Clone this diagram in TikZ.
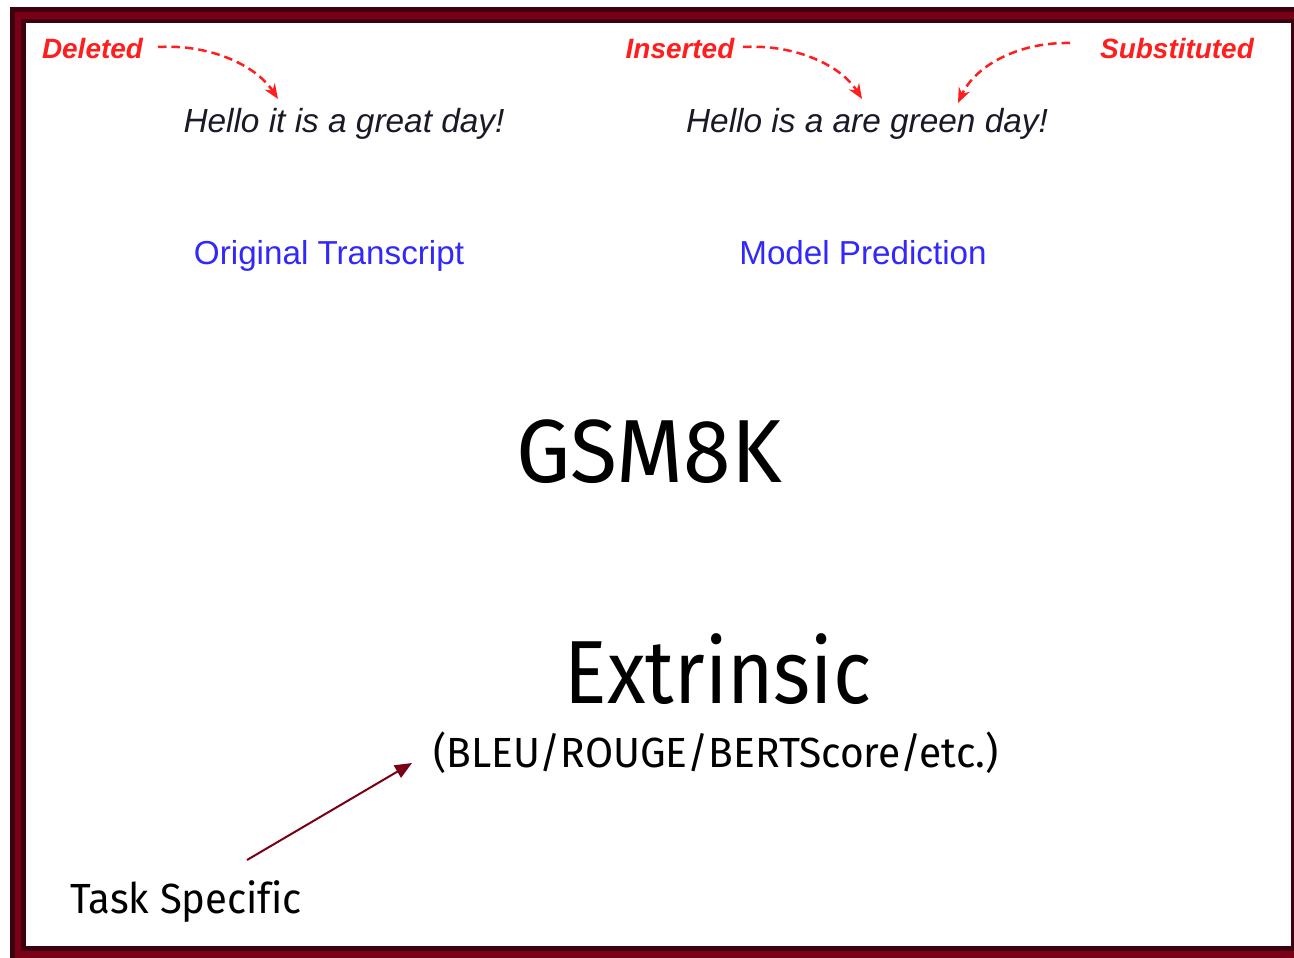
\documentclass[tikz,border=0pt]{standalone}
\usepackage{fontspec}
\setmainfont{Liberation Sans}
\newfontfamily\titfont[Ligatures=NoCommon]{Fira Sans}
\usetikzlibrary{arrows.meta}
\definecolor{frameDark}{RGB}{60,0,14}
\definecolor{frameRed}{RGB}{122,0,24}
\definecolor{errRed}{RGB}{255,30,30}
\definecolor{labBlue}{RGB}{50,40,250}
\definecolor{sentInk}{RGB}{25,25,40}
\begin{document}
\begin{tikzpicture}[x=0.02cm,y=-0.02cm,
  errlabel/.style={inner sep=0pt,anchor=base,text=errRed,font=\fontsize{15.9}{18}\selectfont\bfseries\itshape},
  sentence/.style={inner sep=0pt,anchor=base,text=sentInk,font=\fontsize{19}{22}\selectfont\itshape},
  caption/.style={inner sep=0pt,anchor=base,text=labBlue,font=\fontsize{18.9}{22}\selectfont},
  bigtitle/.style={inner sep=0pt,anchor=base,text=black,font=\titfont\fontsize{51}{56}\selectfont},
  subtitle/.style={inner sep=0pt,anchor=base,text=black,font=\titfont\fontsize{24}{28}\selectfont},
  errarrow/.style={errRed,line width=0.05cm,dash pattern=on 0.17cm off 0.1cm,-{Stealth[length=0.3cm,width=0.24cm]}},
  taskarrow/.style={frameRed,line width=0.04cm,-{Triangle[length=0.34cm,width=0.28cm]}}]
\useasboundingbox (0,0) rectangle (1294,957);
\clip (0,0) rectangle (1294,957);
\fill[white] (0,0) rectangle (1294,957);
% frame
\draw[frameDark,line width=0.33cm] (18,15) rectangle (1299,954);
\draw[frameRed,line width=0.14cm] (18,15) rectangle (1299,954);
% top texts
\node[errlabel] (del) at (92.5,58) {Deleted};
\node[errlabel] (ins) at (680,58) {Inserted};
\node[errlabel] (sub) at (1177,58) {Substituted};
\node[sentence] (orig) at (344,132) {Hello it is a great day!};
\node[sentence] (pred) at (867,132) {Hello is a are green day!};
\node[caption] (origcap) at (329,264) {Original Transcript};
\node[caption] (predcap) at (863,264) {Model Prediction};
% arrow targets
\coordinate (delS) at (158,47);
\coordinate (delT) at (278,99);
\coordinate (insS) at (743,47);
\coordinate (insT) at (862,99);
\coordinate (subS) at (1070,43);
\coordinate (subT) at (958,103);
\draw[errarrow] (delS) .. controls (208,44) and (255,64) .. (delT);
\draw[errarrow] (insS) .. controls (793,44) and (840,64) .. (insT);
\draw[errarrow] (subS) .. controls (1018,42) and (975,66) .. (subT);
% big titles
\node[bigtitle] (gsm) at (649,482) {\scalebox{0.96}[1]{GSM8K}};
\node[bigtitle] (ext) at (718,703) {\scalebox{0.885}[1]{Extrinsic}};
\node[subtitle] (met) at (716,767) {\scalebox{0.965}[1]{(BLEU/ROUGE/BERTScore/etc.)}};
\node[subtitle] (task) at (186,913) {\scalebox{0.95}[1]{Task Specific}};
\coordinate (taskS) at (247,860);
\coordinate (taskT) at (412,763);
\draw[taskarrow] (taskS) -- (taskT);
\end{tikzpicture}
\end{document}
